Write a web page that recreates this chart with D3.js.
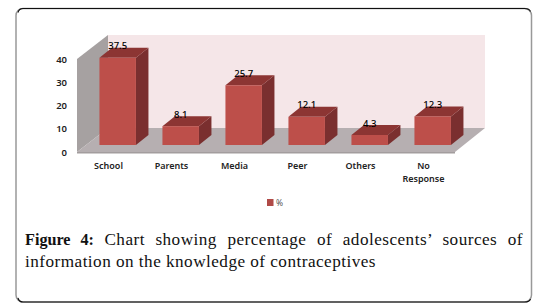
<!DOCTYPE html>
<html><head><meta charset="utf-8">
<script src="https://cdn.jsdelivr.net/npm/d3@7/dist/d3.min.js"></script>
<style>html,body{margin:0;padding:0;background:#fff}svg{display:block}</style>
</head><body><svg id="c" width="543" height="308"></svg>
<script>
const categories = ["School","Parents","Media","Peer","Others","No Response"];
const values = [37.5,8.1,25.7,12.1,4.3,12.3];
const yTicks = [0,10,20,30,40];
const legendLabel = "%";
const captionBold = "Figure 4:";
const captionLine1 = "Chart showing percentage of adolescents’ sources of";
const captionLine2 = "information on the knowledge of contraceptives";

const svg = d3.select("#c");
const font = "'Noto Sans',sans-serif";
const fL=16, fR=531.5, fT=8.5, fB=302, fr=7;
svg.append("rect").attr("x",fL).attr("y",fT).attr("width",fR-fL).attr("height",fB-fT).attr("rx",fr)
  .attr("fill","#fff").attr("stroke","#999").attr("stroke-width",1.5);
svg.append("path").attr("d",`M${fL+2},${fT+4} Q${fL+3},${fT} ${fL+fr},${fT} H${fR-fr} Q${fR-2},${fT} ${fR-1},${fT+3}`).attr("fill","none").attr("stroke","#111").attr("stroke-width",1.1);
svg.append("path").attr("d",`M${fL+2},${fB-4} Q${fL+3},${fB} ${fL+fr},${fB} H${fR-fr} Q${fR-2},${fB} ${fR-1},${fB-3}`).attr("fill","none").attr("stroke","#111").attr("stroke-width",1.1);

const x = d3.scaleBand().domain(categories).range([77,455]);
const y = d3.scaleLinear().domain([0,40]).range([152,59]);
const depthX = 31, depthY = -24;        // chart box depth
const barDX = 12.5, barDY = -10;        // bar depth
const floorLift = 7, barShift = 9.2, barW = 36.5;
const line = d3.line();

const x0 = x.range()[0], x1 = x.range()[1], yB = y(0), yT = y(40);
const plot = svg.append("g");
plot.append("path").attr("d",line([[x0+depthX,yT+depthY],[x1+depthX-1,yT+depthY],[x1+depthX-1,yB+depthY],[x0+depthX,yB+depthY]])+"Z").attr("fill","#f5e6e8");
plot.append("path").attr("d",line([[x0,yT],[x0+depthX,yT+depthY],[x0+depthX,yB+depthY],[x0,yB]])+"Z").attr("fill","#a6a1a1");
plot.append("path").attr("d",line([[x0,yB],[x0+depthX,yB+depthY],[x1+depthX-1,yB+depthY],[x1,yB]])+"Z").attr("fill","#b6afb1");
plot.append("rect").attr("x",x0).attr("y",yB).attr("width",x1-x0).attr("height",1.5).attr("fill","#a39d9e");

const bars = plot.selectAll("g.bar").data(categories.map((c,i)=>({c,v:values[i]}))).join("g").attr("class","bar");
const bx = d => x(d.c)+x.bandwidth()/2+barShift-barW/2;
const base = yB-floorLift;
const top_ = d => y(d.v)-floorLift;
bars.append("path").attr("d",d=>line([[bx(d)+barW,top_(d)],[bx(d)+barW+barDX,top_(d)+barDY],[bx(d)+barW+barDX,base+barDY],[bx(d)+barW,base]])+"Z").attr("fill","#7a2f2f");
bars.append("path").attr("d",d=>line([[bx(d),top_(d)],[bx(d)+barDX,top_(d)+barDY],[bx(d)+barW+barDX,top_(d)+barDY],[bx(d)+barW,top_(d)]])+"Z").attr("fill","#8c3533");
bars.append("rect").attr("x",bx).attr("y",top_).attr("width",barW).attr("height",d=>base-top_(d)).attr("fill","#bd4f4a");
bars.append("text").attr("x",d=>bx(d)+barW/2).attr("y",d=>top_(d)+barDY+1.5).attr("text-anchor","middle")
  .attr("font-family",font).attr("font-size",9.5).attr("font-weight",500).attr("fill","#000").text(d=>d.v);

const yAxis = svg.append("g").attr("transform","translate(67,0)").call(d3.axisLeft(y).tickValues(yTicks).tickSize(0).tickPadding(0));
yAxis.select(".domain").remove();
yAxis.selectAll("text").attr("font-family",font).attr("font-size",9.5).attr("font-weight",600).attr("fill","#222");

const xAxis = svg.append("g").attr("transform","translate(0,169)");
categories.forEach(c=>{
  const t = xAxis.append("text").attr("text-anchor","middle").attr("font-family",font).attr("font-size",9).attr("font-weight",600).attr("fill","#222");
  c.split(" ").forEach((w,i)=>t.append("tspan").attr("x",x(c)+x.bandwidth()/2).attr("y",i*13).text(w));
});

svg.append("rect").attr("x",267).attr("y",199).attr("width",6.5).attr("height",7).attr("fill","#b04a47");
svg.append("text").attr("x",276).attr("y",206).attr("font-family",font).attr("font-size",8.5).attr("fill","#555").text(legendLabel);

const serif = "'Liberation Serif',serif", capSize = 17.2, capL = 25, capR = 523, line2W = 351;
const l2 = svg.append("text").attr("x",capL).attr("y",267).attr("font-family",serif).attr("font-size",capSize).attr("fill","#111").text(captionLine2);
const ls = (line2W-l2.node().getComputedTextLength())/captionLine2.length;
l2.attr("letter-spacing",ls);
const l1 = svg.append("text").attr("x",capL).attr("y",245).attr("font-family",serif).attr("font-size",capSize).attr("fill","#111").attr("letter-spacing",ls).style("white-space","pre");
l1.append("tspan").attr("font-weight",700).attr("font-size",16.2).attr("letter-spacing",0).text(captionBold);
l1.append("tspan").text(" "+captionLine1);
const gaps = (captionBold+" "+captionLine1).split(" ").length-1;
l1.attr("word-spacing",(capR-capL-l1.node().getComputedTextLength())/gaps);
</script></body></html>
